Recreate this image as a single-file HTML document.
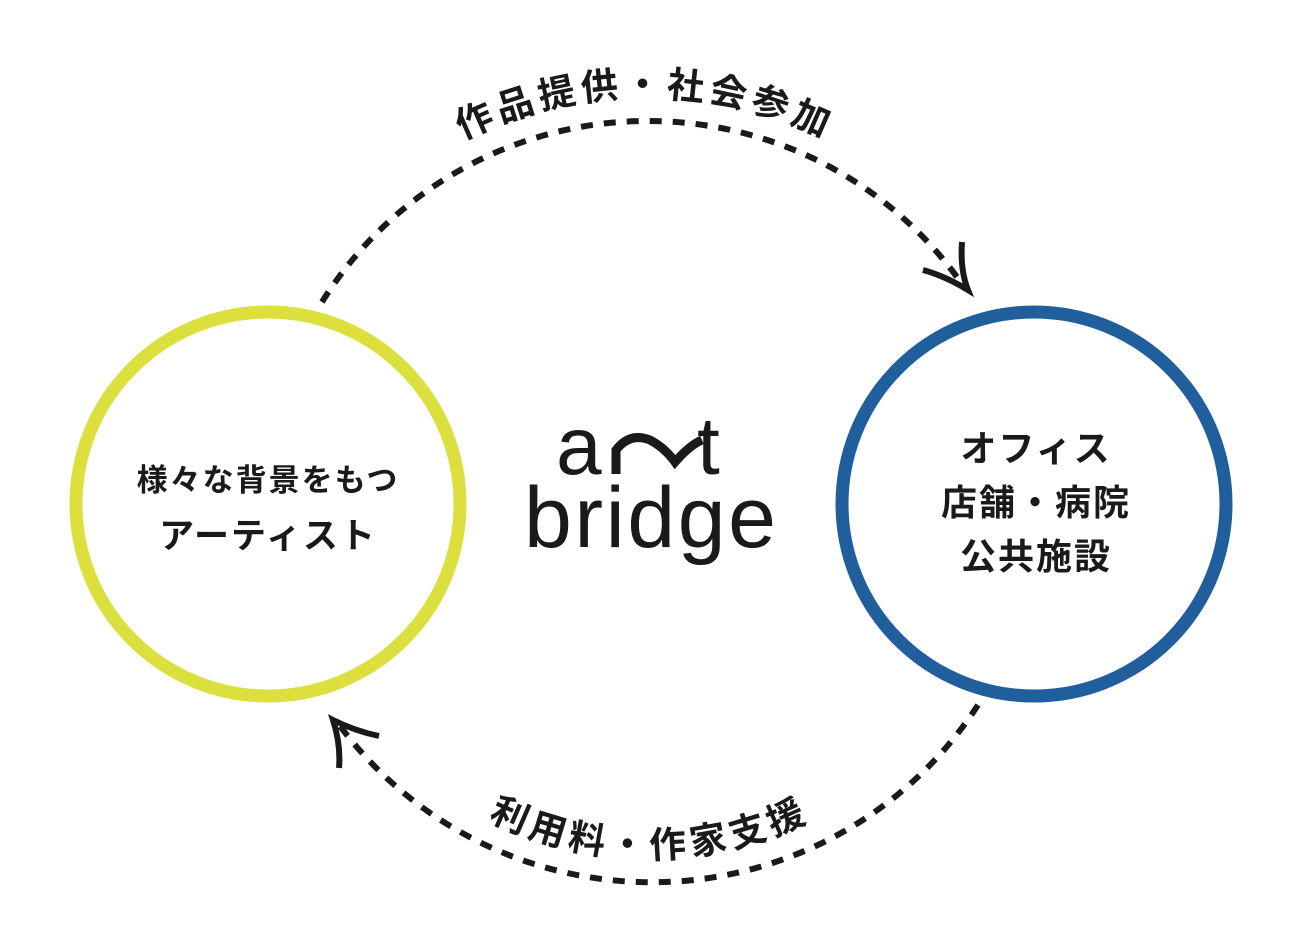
<!DOCTYPE html>
<html><head><meta charset="utf-8"><style>
html,body{margin:0;padding:0;background:#fff;}
svg{display:block}
text{font-family:"Liberation Sans","Noto Sans CJK JP",sans-serif;font-weight:bold;fill:#1a1a1a}
</style></head><body>
<svg width="1314" height="950" viewBox="0 0 1314 950" xmlns="http://www.w3.org/2000/svg">
<defs>
<path id="tp" d="M 238 504 A 407 407 0 0 1 1052 504"/>
<path id="bp" d="M 292 500 A 358 358 0 0 0 1008 500"/>
</defs>
<circle cx="268" cy="504" r="192" fill="none" stroke="#dbe03f" stroke-width="13"/>
<circle cx="1034" cy="504" r="192" fill="none" stroke="#215f9c" stroke-width="13"/>
<path d="M 322 302 A 384 384 0 0 1 962 284" fill="none" stroke="#1a1a1a" stroke-width="6" stroke-dasharray="12 11"/>
<path d="M 978 705 A 389 389 0 0 1 340 726" fill="none" stroke="#1a1a1a" stroke-width="6" stroke-dasharray="12 11"/>
<path d="M 962 242 Q 960 270 968 290 Q 945 276 923 270" fill="none" stroke="#1a1a1a" stroke-width="6"/>
<path d="M 379 736 Q 355 731 333 720 Q 341 745 339 768" fill="none" stroke="#1a1a1a" stroke-width="6"/>
<text font-size="37" letter-spacing="5" text-anchor="middle"><textPath href="#tp" startOffset="50%">作品提供・社会参加</textPath></text>
<text font-size="37" letter-spacing="5" text-anchor="middle"><textPath href="#bp" startOffset="50%">利用料・作家支援</textPath></text>
<text x="268" y="491" font-size="31" text-anchor="middle" letter-spacing="2">様々な背景をもつ</text>
<text x="268" y="548" font-size="35" text-anchor="middle" letter-spacing="2">アーティスト</text>
<text x="1036" y="461" font-size="36" text-anchor="middle" letter-spacing="2">オフィス</text>
<text x="1036" y="515" font-size="36" text-anchor="middle" letter-spacing="2">店舗・病院</text>
<text x="1036" y="569" font-size="36" text-anchor="middle" letter-spacing="2">公共施設</text>
<text x="556" y="474" font-size="82" style="font-weight:normal">a</text>
<path d="M 616 474 L 616 450 Q 630 432 650 440 Q 665 448 675 462 Q 690 445 702 440" fill="none" stroke="#1a1a1a" stroke-width="9"/>
<text x="697" y="474" font-size="82" style="font-weight:normal">t</text>
<text x="650" y="547" font-size="86" text-anchor="middle" style="font-weight:normal" textLength="252">bridge</text>
</svg>
</body></html>
